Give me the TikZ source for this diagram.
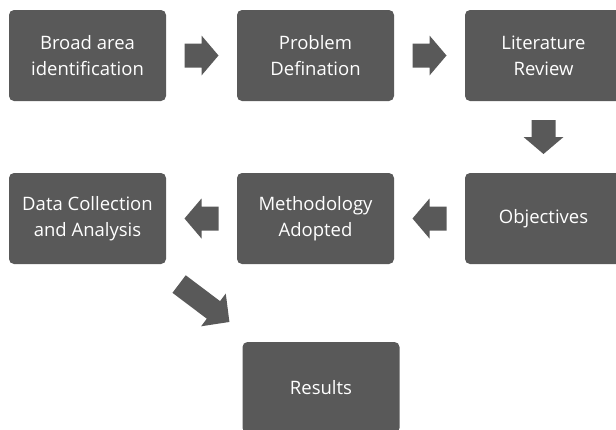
\documentclass[tikz,border=0pt]{standalone}
\usepackage{fontspec}
\setmainfont{Open Sans}
\usetikzlibrary{calc}
\definecolor{boxgray}{HTML}{595959}
\tikzset{
  box/.style={fill=boxgray, rounded corners=5pt, minimum width=157pt, minimum height=91pt,
    text=white, align=center, inner sep=0pt, font=\fontsize{18.5}{26}\selectfont},
  shortarrow/.pic={\fill[boxgray] (-17,-12) -- (0,-12) -- (0,-20) -- (17,0) -- (0,20) -- (0,12) -- (-17,12) -- cycle;},
  longarrow/.pic={\fill[boxgray] (-31.5,-11) -- (11.5,-11) -- (11.5,-20.5) -- (31.5,0) -- (11.5,20.5) -- (11.5,11) -- (-31.5,11) -- cycle;}
}
\begin{document}
\begin{tikzpicture}[x=1pt,y=-1pt]
\useasboundingbox (0,0) rectangle (616,429);
\node[box] (b1) at (87.5,55.5) {Broad area\\identification};
\node[box] (b2) at (315.5,55.5) {Problem\\Defination};
\node[box] (b3) at (543.5,55.5) {Literature\\Review};
\node[box] (b4) at (87.5,218.5) {Data Collection\\and Analysis};
\node[box] (b5) at (315.5,218.5) {Methodology\\Adopted};
\node[box] (b6) at (543.5,218.5) {Objectives};
\node[box] (b7) at (321,387.5) {Results};
\pic at ($(b1.east)!0.5!(b2.west)$) {shortarrow};
\pic at ($(b2.east)!0.5!(b3.west)$) {shortarrow};
\pic[rotate=-90] at ($(b3.south)!0.5!(b6.north)$) {shortarrow};
\pic[rotate=180] at ($(b6.west)!0.5!(b5.east)$) {shortarrow};
\pic[rotate=180] at ($(b5.west)!0.5!(b4.east)$) {shortarrow};
\pic[rotate=-37] at ($(b4.south east)!0.5!(b7.north west)$) {longarrow};
\end{tikzpicture}
\end{document}
